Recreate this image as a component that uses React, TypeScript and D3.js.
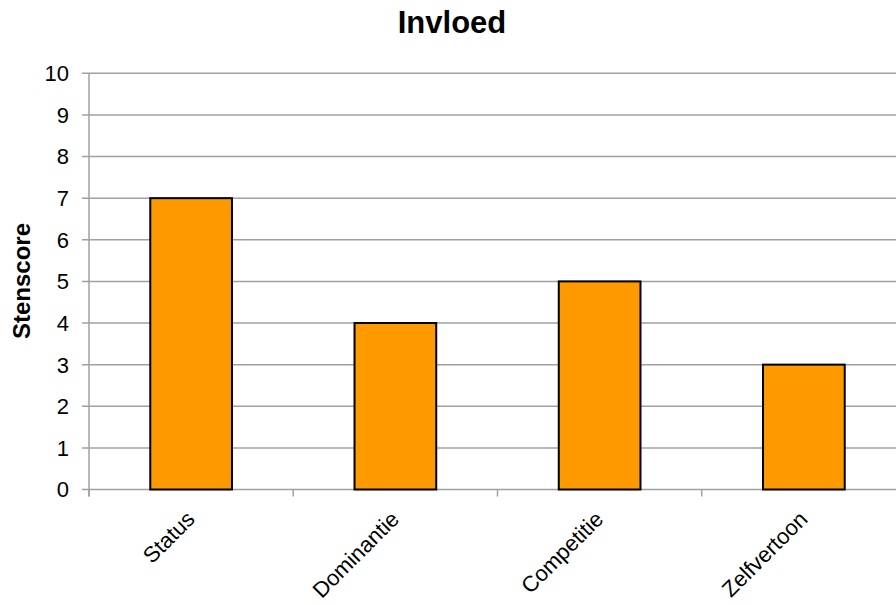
import React from "react";
import * as d3 from "d3";

const title = "Invloed";
const yAxisLabel = "Stenscore";
const categories = ["Status", "Dominantie", "Competitie", "Zelfvertoon"];
const scores = [7, 4, 5, 3];
const yTicks = [0, 1, 2, 3, 4, 5, 6, 7, 8, 9, 10];

const W = 896;
const H = 605;
const plot = { left: 89, right: 906, top: 73.3, bottom: 489.5 };

export default function App() {
  const x = d3
    .scaleBand<string>()
    .domain(categories)
    .range([plot.left, plot.right])
    .paddingInner(0.6)
    .paddingOuter(0.3);
  const y = d3.scaleLinear().domain([0, 10]).range([plot.bottom, plot.top]);
  const catEdges = categories.map((_, i) => plot.left + i * (plot.right - plot.left) / categories.length);
  const font = "Arial, 'Liberation Sans', sans-serif";
  const grid = "#a0a0a0";

  return (
    <div style={{ position: "fixed", left: 0, top: 0 }}>
      <svg width={W} height={H} style={{ display: "block", background: "#fff" }}>
        <text x={452} y={33} textAnchor="middle" fontFamily={font} fontWeight="bold" fontSize={31} fill="#000">
          {title}
        </text>
        <text
          transform={`translate(30,281) rotate(-90)`}
          textAnchor="middle"
          fontFamily={font}
          fontWeight="bold"
          fontSize={24}
          fill="#000"
        >
          {yAxisLabel}
        </text>

        {/* horizontal gridlines and y ticks */}
        {yTicks.map((t) => (
          <g key={t}>
            <line x1={plot.left - 7} x2={W} y1={y(t)} y2={y(t)} stroke={grid} strokeWidth={1.5} />
            <text x={69} y={y(t)} dy="0.36em" textAnchor="end" fontFamily={font} fontSize={22} fill="#000">
              {t}
            </text>
          </g>
        ))}
        <line x1={plot.left} x2={plot.left} y1={plot.top} y2={plot.bottom + 7} stroke={grid} strokeWidth={1.5} />
        {catEdges.map((e, i) => (
          <line key={i} x1={e} x2={e} y1={plot.bottom} y2={plot.bottom + 7} stroke={grid} strokeWidth={1.5} />
        ))}

        {/* bars */}
        {categories.map((c, i) => (
          <rect
            key={c}
            x={x(c)!}
            y={y(scores[i])}
            width={x.bandwidth()}
            height={y(0) - y(scores[i])}
            fill="#ff9900"
            stroke="#000"
            strokeWidth={2}
          />
        ))}

        {/* category labels */}
        {categories.map((c) => {
          const cx = x(c)! + x.bandwidth() / 2;
          return (
            <text
              key={c}
              transform={`translate(${cx + 5},${plot.bottom + 31}) rotate(-45)`}
              textAnchor="end"
              fontFamily={font}
              fontSize={22}
              fill="#000"
            >
              {c}
            </text>
          );
        })}
      </svg>
    </div>
  );
}
